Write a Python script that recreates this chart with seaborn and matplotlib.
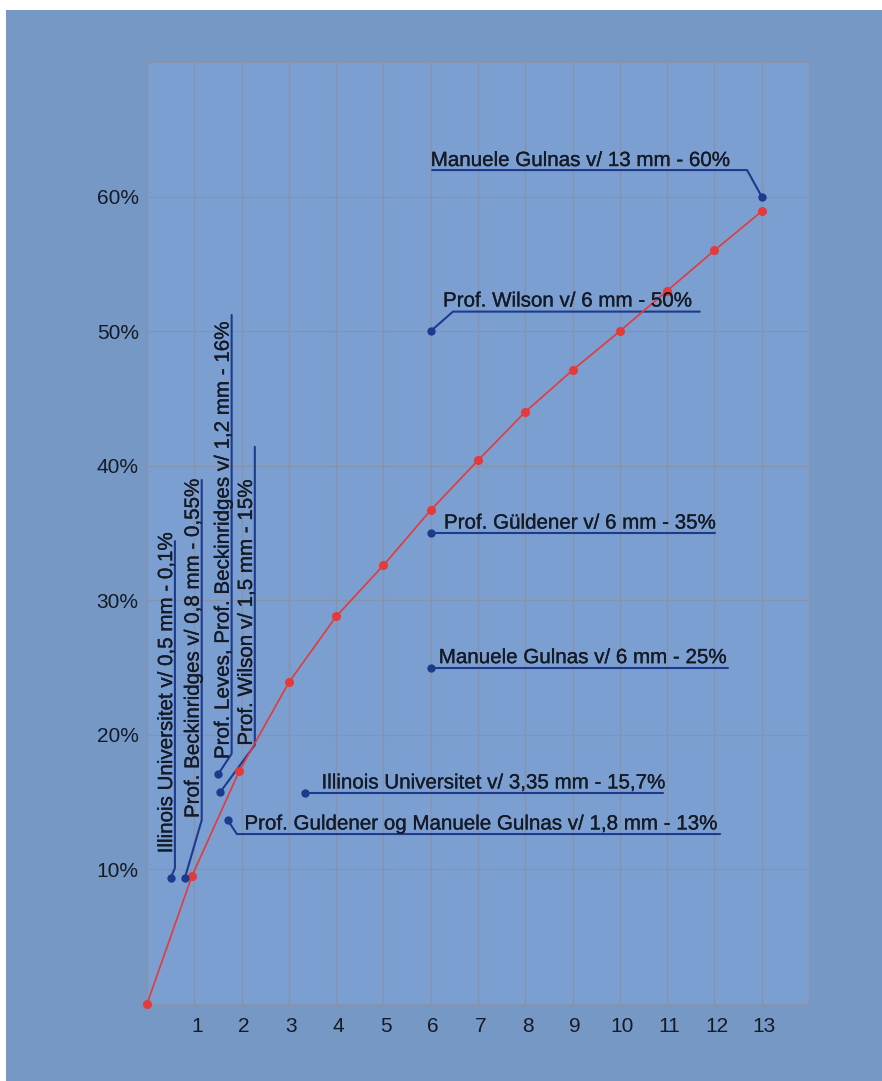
import matplotlib
matplotlib.use("Agg")
import matplotlib.pyplot as plt
import matplotlib.patheffects as pe
from matplotlib.transforms import ScaledTranslation
import seaborn as sns
import pandas as pd
from matplotlib.patches import Rectangle

# Red reference curve: pore width (mm) against percentage
curve_mm = [0, 0.95, 1.95, 3, 4, 5, 6, 7, 8, 9, 10, 11, 12, 13]
curve_pct = [0, 9.5, 17.3, 23.9, 28.8, 32.6, 36.7, 40.4, 44.0, 47.1, 50.0, 53.0, 56.0, 58.9]

# Individual study results (blue markers)
study_mm = [0.5, 0.8, 1.51, 1.55, 1.71, 3.35, 6, 6, 6, 13]
study_pct = [9.35, 9.35, 17.1, 15.75, 13.65, 15.7, 50, 35, 25, 60]
study_labels = [
    "Illinois Universitet v/ 0,5 mm - 0,1%",
    "Prof. Beckinridges v/ 0,8 mm - 0,55%",
    "Prof. Leves, Prof. Beckinridges v/ 1,2 mm - 16%",
    "Prof. Wilson v/ 1,5 mm - 15%",
    "Prof. Guldener og Manuele Gulnas v/ 1,8 mm - 13%",
    "Illinois Universitet v/ 3,35 mm - 15,7%",
    "Prof. Wilson v/ 6 mm - 50%",
    "Prof. Güldener v/ 6 mm - 35%",
    "Manuele Gulnas v/ 6 mm - 25%",
    "Manuele Gulnas v/ 13 mm - 60%",
]

x_ticks = [1, 2, 3, 4, 5, 6, 7, 8, 9, 10, 11, 12, 13]
y_ticks = [10, 20, 30, 40, 50, 60]
y_tick_labels = ["10%", "20%", "30%", "40%", "50%", "60%"]

# Callout layout: orientation, elbow of the leader, end of the underline, text anchor
callouts = [
    ("v", (0.59, 10.1), 34.4, (0.53, 11.2)),
    ("v", (1.157, 13.67), 38.94, (1.093, 13.82)),
    ("v", (1.79, 18.6), 51.2, (1.727, 18.2)),
    ("v", (2.28, 19.25), 41.4, (2.22, 19.2)),
    ("h", (1.90, 12.63), 12.12, (2.06, 12.97)),
    ("h", None, 10.91, (3.69, 16.02)),
    ("h", (6.47, 51.45), 11.69, (6.26, 51.83)),
    ("h", None, 12.01, (6.28, 35.33)),
    ("h", None, 12.29, (6.17, 25.33)),
    ("h", (12.69, 61.97), 6.03, (6.0, 62.27)),
]

FIG_BG = "#7698c5"
AX_BG = "#7b9fd0"
GRID = "#8893a9"
RED = "#e43a3a"
NAVY = "#1e3a8e"
INK = "#151a27"

sns.set_style("whitegrid", {
    "axes.facecolor": AX_BG,
    "grid.color": GRID,
    "axes.edgecolor": GRID,
})
plt.rcParams["font.family"] = ["Liberation Sans", "DejaVu Sans"]

fig = plt.figure(figsize=(8.82, 10.81), dpi=100, facecolor="white")
fig.patches.append(Rectangle((6 / 882, 0), 1 - 6 / 882, 1 - 10 / 1081,
                             transform=fig.transFigure, facecolor=FIG_BG,
                             edgecolor="none", zorder=-10))
ax = fig.add_axes([147 / 882, 1 - 1004 / 1081, (809 - 147) / 882, (1004 - 62) / 1081])
ax.set_facecolor(AX_BG)

curve = pd.DataFrame({"mm": curve_mm, "pct": curve_pct})
studies = pd.DataFrame({"mm": study_mm, "pct": study_pct, "label": study_labels})

sns.lineplot(data=curve, x="mm", y="pct", ax=ax, color=RED, linewidth=1.2,
             marker="o", markersize=6.5, markeredgewidth=0, markerfacecolor=RED,
             zorder=4, clip_on=False)

text_fx = [pe.withStroke(linewidth=0.2, foreground=INK)]

# Leader lines and callout texts
for (kind, elbow, end, (tx, ty)), px, py, label in zip(callouts, study_mm, study_pct, study_labels):
    if kind == "h":
        if elbow is None:
            xs, ys = [px, end], [py, py]
        else:
            xs, ys = [px, elbow[0], end], [py, elbow[1], elbow[1]]
        ax.plot(xs, ys, color=NAVY, linewidth=1.5, zorder=3, clip_on=False)
        ax.text(tx, ty, label, fontsize=14.8, color=INK, ha="left", va="baseline",
                zorder=6, path_effects=text_fx)
    else:
        ax.plot([px, elbow[0], elbow[0]], [py, elbow[1], end], color=NAVY,
                linewidth=1.5, zorder=3, clip_on=False)
        ax.text(tx, ty, label, fontsize=14.8, color=INK, rotation=90,
                rotation_mode="anchor", ha="left", va="baseline", zorder=6,
                path_effects=text_fx)

sns.scatterplot(data=studies, x="mm", y="pct", ax=ax, color=NAVY, s=36,
                linewidth=0, zorder=5, clip_on=False, legend=False)

ax.set_xlim(0, 14)
ax.set_ylim(0, 70)
ax.set_xticks(x_ticks)
ax.set_xticklabels([str(t) for t in x_ticks])
ax.set_yticks(y_ticks)
ax.set_yticklabels(y_tick_labels)
ax.tick_params(axis="both", length=0, labelsize=15, labelcolor=INK)
ax.tick_params(axis="x", pad=9)
ax.tick_params(axis="y", pad=6)
shift = ScaledTranslation(2.5 / 100, 0, fig.dpi_scale_trans)
for lbl in ax.get_xticklabels():
    lbl.set_transform(lbl.get_transform() + shift)
ax.set_xlabel("")
ax.set_ylabel("")
ax.grid(True, color=GRID, linewidth=0.9)
for side in ["left", "right", "top", "bottom"]:
    ax.spines[side].set_visible(True)
    ax.spines[side].set_color(GRID)
    ax.spines[side].set_linewidth(0.9)

fig.savefig("out.png", dpi=100, facecolor="white")
